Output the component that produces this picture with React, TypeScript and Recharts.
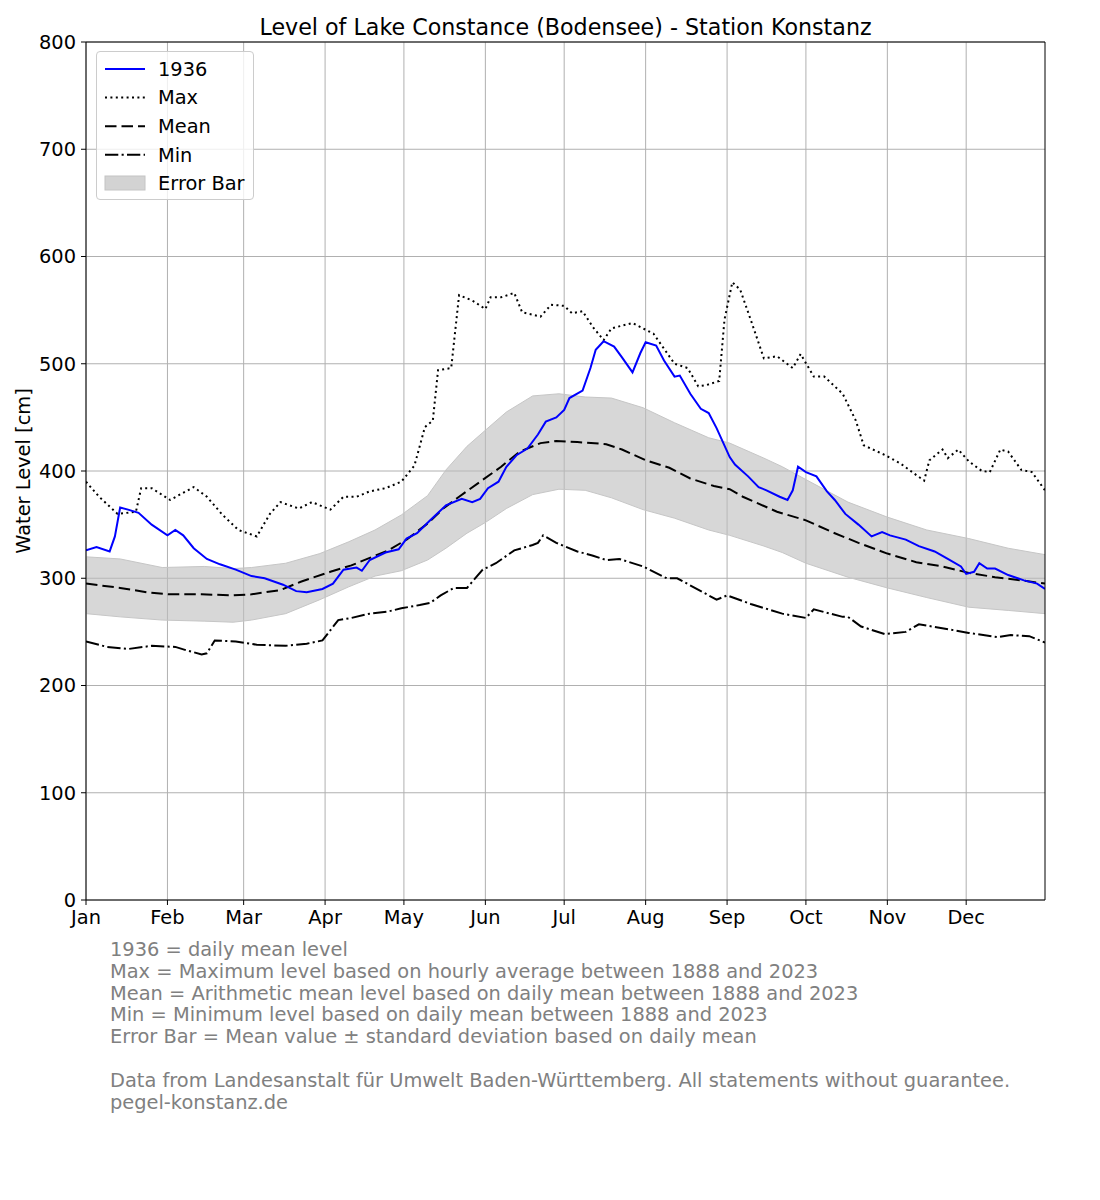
import React from "react";
import {
  ComposedChart, Line, Area, XAxis, YAxis, CartesianGrid, ReferenceLine,
} from "recharts";

// ── Data (day of year 1936, 0 = 1 Jan, 365 = 31 Dec) ───────

const MONTH_TICKS = [0, 31, 60, 91, 121, 152, 182, 213, 244, 274, 305, 335];
const MONTH_LABELS = ["Jan", "Feb", "Mar", "Apr", "May", "Jun", "Jul", "Aug", "Sep", "Oct", "Nov", "Dec"];
const LEVEL_TICKS = [0, 100, 200, 300, 400, 500, 600, 700, 800];

// 1936 daily mean level
const YEAR_DAYS = [
  0, 4, 9, 11, 13, 16, 20, 25, 31, 34, 37, 41, 46, 51, 57, 63, 68, 75, 80, 84,
  90, 94, 98, 103, 105, 108, 114, 119, 122, 126, 131, 137, 143, 147, 150, 153, 157, 160, 164, 168,
  172, 175, 179, 182, 184, 189, 192, 194, 197, 201, 204, 206, 208, 211, 213, 217, 220, 224, 226, 230,
  234, 237, 240, 245, 247, 252, 256, 259, 264, 267, 269, 271, 274, 278, 282, 285, 289, 294, 299, 303,
  306, 312, 317, 323, 328, 333, 335, 338, 340, 343, 346, 351, 357, 362, 365,
];
const YEAR_LEVEL = [
  326, 329, 325, 339, 366, 364, 361, 350, 340, 345, 340, 328, 318, 313, 308, 302, 300, 294, 288, 287,
  290, 295, 308, 310, 307, 317, 324, 327, 337, 342, 354, 368, 374, 371, 374, 384, 390, 404, 415, 421,
  434, 446, 450, 457, 468, 475, 496, 513, 521, 516, 506, 499, 492, 510, 520, 517, 503, 488, 489, 472,
  458, 454, 440, 413, 406, 395, 385, 382, 376, 373, 382, 404, 399, 395, 381, 373, 360, 350, 339, 343,
  340, 336, 330, 325, 318, 311, 304, 306, 314, 309, 309, 303, 298, 295, 290,
];

// Max = maximum hourly level 1888–2023
const MAX_DAYS = [
  0, 5, 12, 19, 21, 25, 32, 41, 46, 52, 58, 65, 70, 74, 81, 86, 93, 98, 103, 108,
  114, 120, 125, 129, 132, 134, 139, 142, 147, 152, 154, 158, 163, 166, 173, 177, 182, 185, 189, 193,
  197, 200, 208, 216, 224, 229, 233, 236, 241, 243, 246, 249, 253, 258, 263, 269, 272, 277, 281, 288,
  293, 296, 304, 310, 315, 319, 321, 326, 328, 332, 336, 341, 344, 348, 351, 356, 360, 365,
];
const MAX_LEVEL = [
  390, 376, 360, 362, 384, 384, 373, 385, 376, 359, 345, 339, 360, 371, 365, 371, 364, 376, 376, 381,
  384, 390, 405, 441, 447, 494, 496, 564, 559, 551, 562, 562, 566, 548, 544, 555, 554, 547, 549, 534,
  522, 533, 538, 528, 500, 496, 479, 480, 484, 541, 576, 569, 541, 505, 507, 496, 509, 488, 488, 472,
  447, 424, 415, 407, 398, 391, 410, 420, 412, 420, 409, 400, 399, 420, 418, 401, 399, 382,
];

// Mean = arithmetic mean of daily means 1888–2023
const MEAN_DAYS = [
  0, 13, 23, 32, 44, 56, 63, 74, 82, 93, 101, 108, 115, 122, 130, 136, 142, 150, 158, 165,
  173, 179, 187, 198, 204, 213, 222, 230, 239, 245, 250, 263, 274, 284, 294, 305, 316, 326, 336, 346,
  356, 365,
];
const MEAN_LEVEL = [
  295, 291, 287, 285, 285, 284, 285, 289, 297, 306, 312, 319, 326, 336, 351, 365, 376, 390, 404, 418,
  426, 428, 427, 425, 420, 410, 403, 393, 386, 383, 376, 362, 354, 343, 333, 323, 315, 311, 305, 301,
  298, 295,
];

// Min = minimum of daily means 1888–2023
const MIN_DAYS = [
  0, 8, 16, 25, 34, 38, 44, 46, 49, 57, 65, 76, 84, 90, 96, 101, 108, 115, 120, 127,
  131, 135, 140, 145, 151, 156, 163, 170, 172, 174, 179, 187, 193, 198, 203, 212, 221, 225, 231, 240,
  244, 253, 265, 274, 277, 288, 290, 295, 304, 312, 317, 327, 336, 347, 352, 359, 365,
];
const MIN_LEVEL = [
  241, 236, 234, 237, 236, 233, 229, 230, 242, 241, 238, 237, 239, 242, 261, 263, 267, 269, 272, 275,
  277, 284, 291, 291, 308, 314, 326, 331, 333, 340, 333, 325, 321, 317, 318, 311, 300, 300, 292, 280,
  284, 276, 267, 263, 271, 264, 264, 255, 248, 250, 257, 253, 249, 245, 247, 246, 240,
];

// Error bar = mean ± standard deviation
const BAND_DAYS = [
  0, 13, 29, 45, 56, 63, 76, 89, 100, 110, 120, 130, 137, 145, 152, 160, 170, 180, 190, 200,
  212, 224, 237, 245, 258, 265, 274, 290, 305, 320, 336, 351, 365,
];
const BAND_UPPER = [
  320, 318, 310, 311, 309, 310, 314, 323, 334, 345, 359, 377, 401, 423, 438, 455, 470, 472, 469, 468,
  459, 445, 431, 426, 412, 404, 392, 371, 357, 345, 337, 328, 322,
];
const BAND_LOWER = [
  267, 264, 261, 260, 259, 261, 267, 280, 292, 302, 307, 317, 328, 342, 352, 365, 378, 383, 382, 375,
  364, 356, 345, 340, 330, 324, 314, 301, 291, 282, 273, 270, 267,
];

const FOOTNOTES = [
  "1936 = daily mean level",
  "Max = Maximum level based on hourly average between 1888 and 2023",
  "Mean = Arithmetic mean level based on daily mean between 1888 and 2023",
  "Min = Minimum level based on daily mean between 1888 and 2023",
  "Error Bar = Mean value \u00b1 standard deviation based on daily mean",
  "",
  "Data from Landesanstalt f\u00fcr Umwelt Baden-W\u00fcrttemberg. All statements without guarantee.",
  "pegel-konstanz.de",
];

// ── Styles ─────────────────────────────────────────────────

const FONT = "'DejaVu Sans', Verdana, sans-serif";
const FS = 19.4;
const BLUE = "#0000ff";
const GRID = "#b0b0b0";
const DOTTED = "2 3.4";
const DASHED = "11.5 5";
const DASHDOT = "13.3 3.3 2.1 3.3";

function toPoints(days: number[], values: number[]) {
  return days.map((day, i) => ({ day, value: values[i] }));
}

const yearData = toPoints(YEAR_DAYS, YEAR_LEVEL);
const maxData = toPoints(MAX_DAYS, MAX_LEVEL);
const meanData = toPoints(MEAN_DAYS, MEAN_LEVEL);
const minData = toPoints(MIN_DAYS, MIN_LEVEL);
const bandData = BAND_DAYS.map((day, i) => ({ day, range: [BAND_LOWER[i], BAND_UPPER[i]] }));

// ── Legend ─────────────────────────────────────────────────

function LegendBox() {
  const rows = [
    { label: "1936", dash: undefined, color: BLUE },
    { label: "Max", dash: DOTTED, color: "#000" },
    { label: "Mean", dash: DASHED, color: "#000" },
    { label: "Min", dash: DASHDOT, color: "#000" },
  ];
  return (
    <div
      style={{
        position: "absolute", left: 96, top: 51, width: 156, height: 147,
        border: "1px solid #cccccc", borderRadius: 4, background: "rgba(255,255,255,0.8)",
      }}
    >
      <svg width={156} height={147} style={{ display: "block" }}>
        {rows.map((r, i) => {
          const y = 17 + i * 28.6;
          return (
            <g key={r.label}>
              <line x1={8} x2={48} y1={y} y2={y} stroke={r.color} strokeWidth={2} strokeDasharray={r.dash} />
              <text x={61} y={y} dy="0.35em" fontSize={FS} fill="#000" fontFamily={FONT}>{r.label}</text>
            </g>
          );
        })}
        <rect x={8} y={124} width={40} height={14} fill="#d3d3d3" stroke="#c4c4c4" />
        <text x={61} y={131} dy="0.35em" fontSize={FS} fill="#000" fontFamily={FONT}>Error Bar</text>
      </svg>
    </div>
  );
}

// ── Component ──────────────────────────────────────────────

export default function App() {
  return (
    <div
      style={{
        position: "absolute", left: 0, top: 0, width: 1100, height: 1200,
        background: "#fff", fontFamily: FONT, color: "#000",
      }}
    >
      {/* Title */}
      <div style={{ position: "absolute", left: 86, width: 959, top: 12, textAlign: "center", fontSize: 22.2, lineHeight: "30px" }}>
        Level of Lake Constance (Bodensee) - Station Konstanz
      </div>

      {/* Y axis label */}
      <div
        style={{
          position: "absolute", left: 23, top: 471, fontSize: FS, whiteSpace: "nowrap",
          transform: "translate(-50%, -50%) rotate(-90deg)",
        }}
      >
        Water Level [cm]
      </div>

      <div style={{ position: "absolute", left: 0, top: 0 }}>
        <ComposedChart width={1100} height={940} margin={{ top: 42, right: 55, bottom: 0, left: 0 }}>
          <CartesianGrid stroke={GRID} strokeWidth={1} horizontalValues={LEVEL_TICKS} verticalValues={MONTH_TICKS} />
          <XAxis
            dataKey="day"
            type="number"
            domain={[0, 365]}
            ticks={MONTH_TICKS}
            tickFormatter={(v: number) => MONTH_LABELS[MONTH_TICKS.indexOf(v)] ?? ""}
            allowDataOverflow
            allowDuplicatedCategory={false}
            height={40}
            tickSize={5}
            tickMargin={5}
            stroke="#000"
            tick={{ fill: "#000", fontSize: FS, fontFamily: FONT }}
            interval={0}
          />
          <YAxis
            type="number"
            domain={[0, 800]}
            ticks={LEVEL_TICKS}
            width={86}
            tickSize={5}
            tickMargin={5}
            stroke="#000"
            tick={{ fill: "#000", fontSize: FS, fontFamily: FONT }}
            interval={0}
          />
          <Area
            data={bandData}
            dataKey="range"
            type="linear"
            fill="#bdbdbd"
            fillOpacity={0.6}
            stroke="#c6c6c6"
            strokeWidth={1}
            isAnimationActive={false}
            activeDot={false}
          />
          <Line data={minData} dataKey="value" type="linear" stroke="#000" strokeWidth={2} strokeDasharray={DASHDOT} dot={false} isAnimationActive={false} />
          <Line data={meanData} dataKey="value" type="linear" stroke="#000" strokeWidth={2} strokeDasharray={DASHED} dot={false} isAnimationActive={false} />
          <Line data={maxData} dataKey="value" type="linear" stroke="#000" strokeWidth={2} strokeDasharray={DOTTED} dot={false} isAnimationActive={false} />
          <Line data={yearData} dataKey="value" type="linear" stroke={BLUE} strokeWidth={2} dot={false} isAnimationActive={false} />
          <ReferenceLine y={800} stroke="#000" strokeWidth={1} />
          <ReferenceLine x={365} stroke="#000" strokeWidth={1} />
        </ComposedChart>
      </div>

      <LegendBox />

      {/* Footnotes */}
      <div style={{ position: "absolute", left: 110, top: 939, fontSize: FS, lineHeight: "21.8px", color: "#808080" }}>
        {FOOTNOTES.map((t, i) => (
          <div key={i} style={{ height: 21.8, whiteSpace: "nowrap" }}>{t}</div>
        ))}
      </div>
    </div>
  );
}
